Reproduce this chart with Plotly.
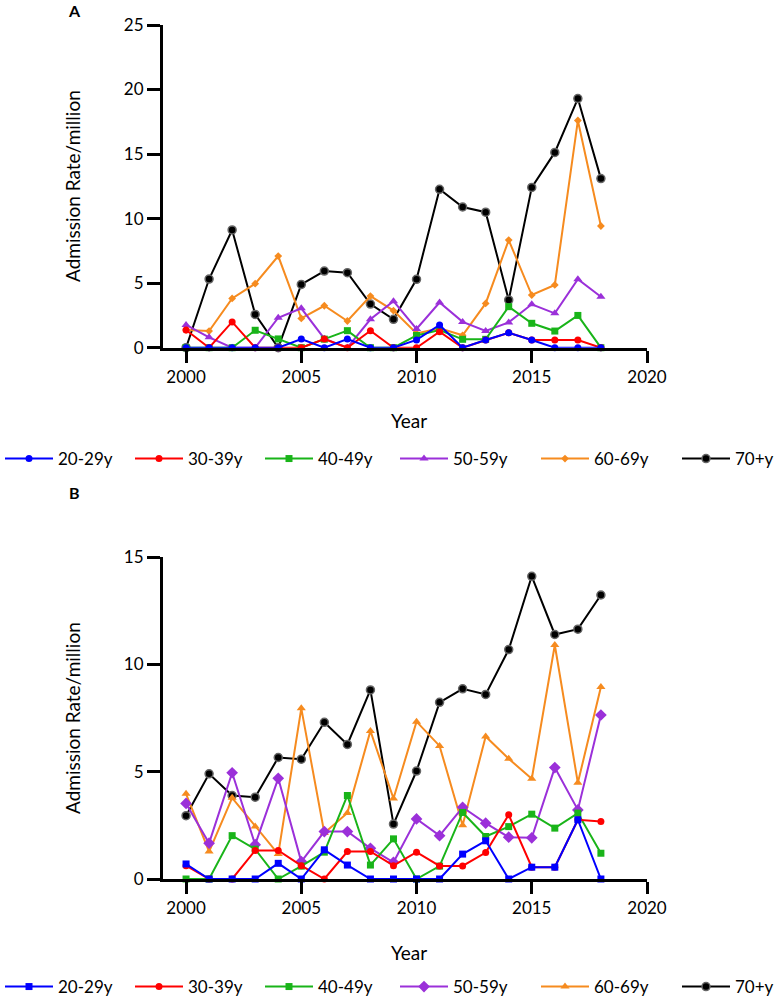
import plotly.graph_objects as go

years = list(range(2000, 2019))

# Panel A
a_20_29 = [0, 0, 0, 0, 0, 0.67, 0, 0.67, 0, 0, 0.6, 1.76, 0, 0.6, 1.16, 0.6, 0, 0, 0]
a_30_39 = [1.37, 0, 2.0, 0, 0, 0, 0.67, 0, 1.32, 0, 0, 1.24, 0, 0.6, 1.16, 0.6, 0.6, 0.6, 0]
a_40_49 = [0, 0, 0, 1.35, 0.68, 0, 0.66, 1.32, 0, 0, 0.95, 1.37, 0.65, 0.65, 3.18, 1.89, 1.29, 2.5, 0]
a_50_59 = [1.76, 0.8, 0, 0, 2.32, 3.05, 0.7, 0, 2.2, 3.6, 1.45, 3.5, 2.0, 1.3, 1.96, 3.36, 2.66, 5.3, 3.95]
a_60_69 = [1.37, 1.29, 3.82, 4.96, 7.1, 2.27, 3.25, 2.07, 4.0, 2.87, 1.1, 1.5, 0.96, 3.43, 8.34, 4.08, 4.86, 17.6, 9.43]
a_70 = [0, 5.32, 9.12, 2.58, 0, 4.9, 5.94, 5.81, 3.38, 2.2, 5.3, 12.27, 10.9, 10.5, 3.7, 12.42, 15.13, 19.3, 13.1]

# Panel B
b_20_29 = [0.7, 0, 0, 0, 0.73, 0, 1.36, 0.65, 0, 0, 0, 0, 1.16, 1.78, 0, 0.55, 0.55, 2.76, 0]
b_30_39 = [0.62, 0, 0, 1.33, 1.33, 0.62, 0, 1.28, 1.28, 0.62, 1.25, 0.61, 0.61, 1.23, 2.99, 0.55, 0.55, 2.76, 2.68]
b_40_49 = [0, 0, 2.02, 1.39, 0, 0.6, 1.25, 3.89, 0.65, 1.87, 0, 0.6, 3.1, 1.98, 2.44, 3.02, 2.37, 3.07, 1.2]
b_50_59 = [3.52, 1.67, 4.95, 1.6, 4.69, 0.81, 2.21, 2.21, 1.43, 0.78, 2.8, 2.02, 3.34, 2.6, 1.95, 1.92, 5.19, 3.22, 7.64]
b_60_69 = [3.97, 1.28, 3.78, 2.45, 1.16, 7.95, 2.14, 3.08, 6.9, 3.75, 7.33, 6.2, 2.5, 6.64, 5.6, 4.67, 10.9, 4.48, 8.94]
b_70 = [2.95, 4.9, 3.89, 3.81, 5.66, 5.58, 7.3, 6.27, 8.81, 2.56, 5.03, 8.23, 8.86, 8.6, 10.69, 14.1, 11.39, 11.64, 13.23]

labels = ["20-29y", "30-39y", "40-49y", "50-59y", "60-69y", "70+y"]
colors = ["#0000ff", "#ff0000", "#19b419", "#9b30d9", "#f68b1f", "#000000"]
symbols_a = ["circle", "circle", "square", "triangle-up", "diamond", "circle"]
sizes_a = [7, 7, 7, 8, 6, 8]
symbols_b = ["square", "circle", "square", "diamond", "triangle-up", "circle"]
sizes_b = [7, 7, 7, 9, 8, 8]

series_a = [a_20_29, a_30_39, a_40_49, a_50_59, a_60_69, a_70]
series_b = [b_20_29, b_30_39, b_40_49, b_50_59, b_60_69, b_70]

FONT = "Lato"
W, H = 778, 1006

fig = go.Figure()

def add_panel(series, symbols, sizes, xaxis, yaxis, legends):
    # draw in reverse so 20-29y sits on top, legend rank keeps order
    for i in reversed(range(6)):
        mk = dict(symbol=symbols[i], size=sizes[i], color=colors[i])
        if i == 5:
            mk["line"] = dict(color="#666666", width=1.5)
        else:
            mk["line"] = dict(width=0)
        fig.add_trace(go.Scatter(
            x=years, y=series[i], mode="lines+markers", name=labels[i],
            line=dict(color=colors[i], width=2), marker=mk,
            xaxis=xaxis, yaxis=yaxis, legend=legends[0] if i < 3 else legends[1],
            legendrank=i + 1, cliponaxis=False,
        ))

add_panel(series_a, symbols_a, sizes_a, "x", "y", ("legend", "legend3"))
add_panel(series_b, symbols_b, sizes_b, "x2", "y2", ("legend2", "legend4"))

def py(px):
    return 1 - px / H

xdom = [163 / W, 647 / W]
axis_common = dict(showline=True, linewidth=3, linecolor="black", ticks="outside",
                   tickwidth=3, tickcolor="black", showgrid=False, zeroline=False,
                   tickfont=dict(family=FONT, size=17, color="black"))

legend_common = dict(orientation="h", xanchor="left", yanchor="middle",
                     font=dict(family=FONT, size=17, color="black"),
                     traceorder="normal", itemwidth=48, bgcolor="rgba(0,0,0,0)")

LEG_A_Y, LEG_B_Y = 459, 987

def ann(text, x, y, size, angle=0):
    return dict(text=text, x=x / W, y=py(y), xref="paper", yref="paper",
                xanchor="center", yanchor="middle", showarrow=False,
                textangle=angle, font=dict(family=FONT, size=size, color="black"))

fig.update_layout(
    width=W, height=H, margin=dict(l=0, r=0, t=0, b=0, autoexpand=False),
    plot_bgcolor="white", paper_bgcolor="white",
    font=dict(family=FONT, color="black"),
    xaxis=dict(domain=xdom, range=[1999, 2020], tickvals=[2000, 2005, 2010, 2015, 2020],
               ticklen=12, anchor="y", **axis_common),
    yaxis=dict(domain=[py(347.7), py(25)], range=[0, 25], tickvals=[0, 5, 10, 15, 20, 25],
               ticklen=13, anchor="x", **axis_common),
    xaxis2=dict(domain=xdom, range=[1999, 2020], tickvals=[2000, 2005, 2010, 2015, 2020],
                ticklen=12, anchor="y2", **axis_common),
    yaxis2=dict(domain=[py(879), py(557)], range=[0, 15], tickvals=[0, 5, 10, 15],
                ticklen=13, anchor="x2", **axis_common),
    legend=dict(x=0, y=py(LEG_A_Y), entrywidth=67, **legend_common),
    legend3=dict(x=395 / W, y=py(LEG_A_Y), entrywidth=78, **legend_common),
    legend2=dict(x=0, y=py(LEG_B_Y), entrywidth=67, **legend_common),
    legend4=dict(x=395 / W, y=py(LEG_B_Y), entrywidth=78, **legend_common),
    annotations=[
        ann("<b>A</b>", 74, 11, 16),
        ann("<b>B</b>", 74, 492, 16),
        ann("Admission Rate/million", 72, 186, 19, -90),
        ann("Admission Rate/million", 72, 718, 19, -90),
        ann("Year", 409, 420, 19),
        ann("Year", 409, 952, 19),
    ],
)

fig.write_html("out.html", config={"displayModeBar": False},
               post_script="document.body.style.margin='0';document.body.style.overflow='hidden';")
